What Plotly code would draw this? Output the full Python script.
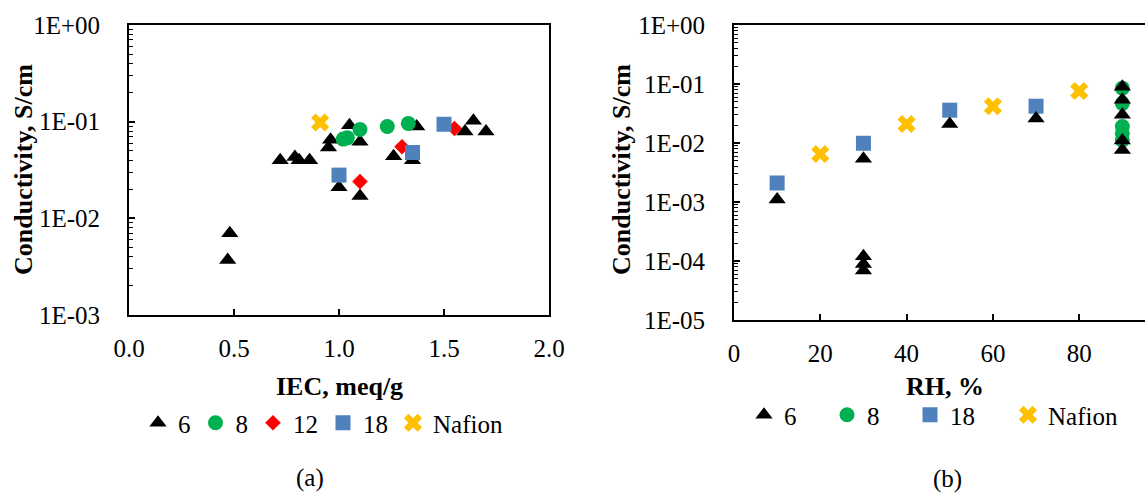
import plotly.graph_objects as go

# ---------------- (a) conductivity vs IEC ----------------
iec_6 = [0.47, 0.48, 0.72, 0.79, 0.81, 0.86, 0.95, 0.96, 1.00, 1.05, 1.10, 1.10, 1.26, 1.35, 1.37, 1.60, 1.64, 1.70]
cond_iec_6 = [0.0037, 0.0070, 0.040, 0.043, 0.040, 0.040, 0.054, 0.065, 0.021, 0.092, 0.062, 0.017, 0.044, 0.040, 0.089, 0.079, 0.102, 0.079]
iec_8 = [1.02, 1.04, 1.10, 1.23, 1.33]
cond_iec_8 = [0.066, 0.068, 0.083, 0.089, 0.096]
iec_12 = [1.10, 1.30, 1.55]
cond_iec_12 = [0.024, 0.055, 0.085]
iec_18 = [1.00, 1.35, 1.50]
cond_iec_18 = [0.028, 0.048, 0.094]
iec_nafion = [0.91]
cond_iec_nafion = [0.098]

# ---------------- (b) conductivity vs RH ----------------
rh_6 = [10, 30, 30, 30, 30, 50, 70, 90, 90, 90, 90, 90]
cond_rh_6 = [0.0011, 0.0054, 1.2e-4, 8.9e-5, 6.9e-5, 0.021, 0.026, 0.090, 0.054, 0.030, 0.011, 0.0076]
rh_8 = [90, 90, 90, 90, 90]
cond_rh_8 = [0.085, 0.047, 0.019, 0.0146, 0.0112]
rh_18 = [10, 30, 50, 70]
cond_rh_18 = [0.0021, 0.0099, 0.036, 0.042]
rh_nafion = [20, 40, 60, 80]
cond_rh_nafion = [0.0065, 0.021, 0.042, 0.076]

FONT = "Liberation Serif, Times New Roman, Times, serif"
BLACK = "#000000"
GREEN = "#00B050"
RED = "#FF0000"
BLUE = "#4F81BD"
GOLD = "#FFC000"

styles = {
    "6": dict(symbol="triangle-up", color=BLACK, size=15),
    "8": dict(symbol="circle", color=GREEN, size=15),
    "12": dict(symbol="diamond", color=RED, size=12),
    "18": dict(symbol="square", color=BLUE, size=15),
    "Nafion": dict(symbol="x", color=GOLD, size=16),
}


def series(name, x, y, xa, ya, legend, rank):
    st = styles[name]
    return go.Scatter(
        x=x, y=y, mode="markers", name=name,
        xaxis=xa, yaxis=ya, legend=legend, legendrank=rank,
        marker=dict(symbol=st["symbol"], color=st["color"], size=st["size"],
                    line=dict(width=0)),
    )


fig = go.Figure()
# panel (a)
fig.add_trace(series("6", iec_6, cond_iec_6, "x", "y", "legend", 1))
fig.add_trace(series("8", iec_8, cond_iec_8, "x", "y", "legend", 2))
fig.add_trace(series("12", iec_12, cond_iec_12, "x", "y", "legend", 3))
fig.add_trace(series("18", iec_18, cond_iec_18, "x", "y", "legend", 4))
fig.add_trace(series("Nafion", iec_nafion, cond_iec_nafion, "x", "y", "legend", 5))
# panel (b): triangles drawn last so they sit on top of the circles at 90 %
fig.add_trace(series("8", rh_8, cond_rh_8, "x2", "y2", "legend2", 2))
fig.add_trace(series("18", rh_18, cond_rh_18, "x2", "y2", "legend2", 3))
fig.add_trace(series("Nafion", rh_nafion, cond_rh_nafion, "x2", "y2", "legend3", 4))
fig.add_trace(series("6", rh_6, cond_rh_6, "x2", "y2", "legend2", 1))

W, H = 1145, 493

tickfont = dict(family=FONT, size=25, color=BLACK)
titlefont = dict(family=FONT, size=26, color=BLACK)
legfont = dict(family=FONT, size=25, color=BLACK)


def decades(lo, hi):
    return [10.0 ** e for e in range(lo, hi + 1)]


def minors(lo, hi):
    return [m * 10.0 ** e for e in range(lo, hi) for m in range(2, 10)]


def labels(lo, hi):
    return ["1E+00" if e == 0 else "1E-%02d" % (-e) for e in range(lo, hi + 1)]


def px(x, y):
    """Figure pixel position -> paper fraction."""
    return x / W, 1 - y / H


common_axis = dict(
    showline=True, linecolor=BLACK, linewidth=2, showgrid=False, zeroline=False,
    ticks="inside", ticklen=6, tickwidth=1.5, tickcolor=BLACK, tickfont=tickfont,
    automargin=False,
)

fig.update_layout(
    width=W, height=H,
    margin=dict(l=0, r=0, t=0, b=0, pad=0, autoexpand=False),
    paper_bgcolor="white", plot_bgcolor="white",
    showlegend=True,
    xaxis=dict(
        **common_axis, domain=[129 / W, 549 / W], range=[0, 2.0],
        tickmode="array", tickvals=[0, 0.5, 1.0, 1.5, 2.0],
        ticktext=["0.0", "0.5", "1.0", "1.5", "2.0"],
        mirror=True, anchor="y", ticklabelstandoff=10,
    ),
    yaxis=dict(
        **common_axis, type="log", domain=[1 - 315 / H, 1 - 25 / H], range=[-3, 0],
        tickmode="array", tickvals=decades(-3, 0), ticktext=labels(-3, 0),
        minor=dict(tickmode="array", tickvals=minors(-3, 0), ticks="inside",
                   ticklen=4, tickwidth=1.2, tickcolor=BLACK, showgrid=False),
        mirror=True, anchor="x", ticklabelstandoff=22,
    ),
    xaxis2=dict(
        **common_axis, domain=[734 / W, 1.0], range=[0, 95.25],
        tickmode="array", tickvals=[0, 20, 40, 60, 80],
        mirror=True, anchor="y2", ticklabelstandoff=10,
    ),
    yaxis2=dict(
        **common_axis, type="log", domain=[1 - 320 / H, 1 - 25 / H], range=[-5, 0],
        tickmode="array", tickvals=decades(-5, 0), ticktext=labels(-5, 0),
        minor=dict(tickmode="array", tickvals=minors(-5, 0), ticks="inside",
                   ticklen=4, tickwidth=1.2, tickcolor=BLACK, showgrid=False),
        mirror=False, anchor="x2", ticklabelstandoff=22,
    ),
    legend=dict(
        orientation="h", x=px(138, 0)[0], y=px(0, 423)[1], xanchor="left", yanchor="middle",
        font=legfont, bgcolor="rgba(0,0,0,0)", traceorder="normal",
    ),
    legend2=dict(
        orientation="h", x=px(744, 0)[0], y=px(0, 415)[1], xanchor="left", yanchor="middle",
        font=legfont, bgcolor="rgba(0,0,0,0)",
        entrywidth=38, entrywidthmode="pixels", traceorder="normal",
    ),
    legend3=dict(
        orientation="h", x=px(1008, 0)[0], y=px(0, 415)[1], xanchor="left", yanchor="middle",
        font=legfont, bgcolor="rgba(0,0,0,0)", traceorder="normal",
    ),
)

# axis titles and panel captions
texts = [
    ("<b>Conductivity, S/cm</b>", 23, 170, -90, titlefont),
    ("<b>Conductivity, S/cm</b>", 621, 170, -90, titlefont),
    ("<b>IEC, meq/g</b>", 339, 386, 0, titlefont),
    ("<b>RH, %</b>", 945, 386, 0, titlefont),
    ("(a)", 310, 478, 0, tickfont),
    ("(b)", 947, 479, 0, tickfont),
]
for txt, x, y, ang, f in texts:
    fx, fy = px(x, y)
    fig.add_annotation(text=txt, x=fx, y=fy, xref="paper", yref="paper",
                       xanchor="center", yanchor="middle", textangle=ang,
                       showarrow=False, font=f)

fig.write_html("out.html")
